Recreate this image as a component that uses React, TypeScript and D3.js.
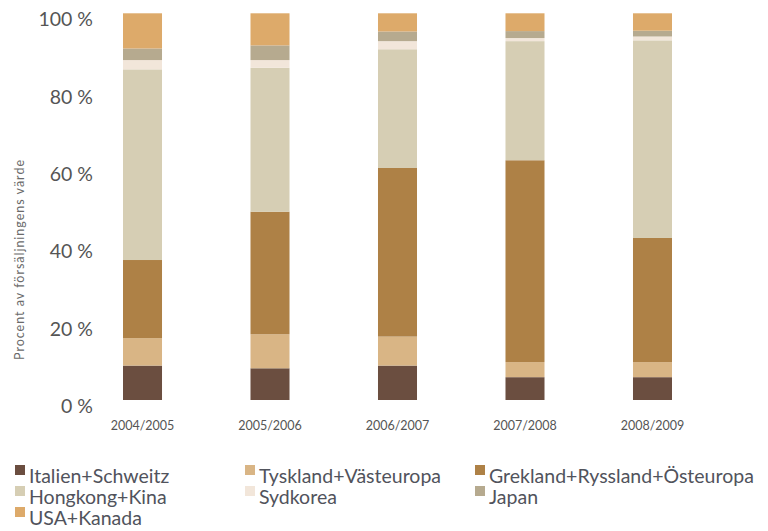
import React from "react";
import * as d3 from "d3";

// values in percent
const periods = ["2004/2005", "2005/2006", "2006/2007", "2007/2008", "2008/2009"];
const italien = [8.9, 8.2, 8.9, 5.9, 5.9];
const tyskland = [7.1, 8.8, 7.5, 3.9, 3.9];
const grekland = [20.2, 31.7, 43.6, 52.2, 32.1];
const hongkong = [49.3, 37.2, 30.7, 30.8, 51.1];
const sydkorea = [2.4, 2.0, 2.1, 0.8, 1.0];
const japan = [3.0, 3.8, 2.5, 1.8, 1.5];
const usa = [9.1, 8.3, 4.7, 4.6, 4.5];
const yTicks = [0, 20, 40, 60, 80, 100];

const seriesNames = [
  "Italien+Schweitz",
  "Tyskland+Västeuropa",
  "Grekland+Ryssland+Östeuropa",
  "Hongkong+Kina",
  "Sydkorea",
  "Japan",
  "USA+Kanada",
];
const seriesValues = [italien, tyskland, grekland, hongkong, sydkorea, japan, usa];
const colors = ["#6b4e40", "#d9b585", "#ae8146", "#d6ceb4", "#f2e6da", "#b6aa8f", "#ddaa6a"];

const width = 768;
const height = 531;
const font = "Lato, 'Open Sans', sans-serif";

const App = () => {
  const rows = periods.map((p, i) => {
    const row: Record<string, any> = { period: p };
    seriesNames.forEach((name, s) => {
      row[name] = seriesValues[s][i];
    });
    return row;
  });

  const stacked = d3.stack<any>().keys(seriesNames)(rows);

  const x = d3
    .scaleBand()
    .domain(periods)
    .range([123, 672])
    .paddingInner(0.694)
    .paddingOuter(0);
  const y = d3.scaleLinear().domain([0, 100]).range([400, 13.3]);
  const color = d3.scaleOrdinal<string>().domain(seriesNames).range(colors);

  // legend: three columns, filled row by row
  const legendCols = [15, 245, 475];
  const legendRows = [483, 504, 525];

  return (
    <svg
      width={width}
      height={height}
      style={{ position: "absolute", left: 0, top: 0, background: "#fff" }}
      fontFamily={font}
    >
      {stacked.map((layer) => (
        <g key={layer.key} fill={color(layer.key)}>
          {layer.map((d) => (
            <rect
              key={d.data.period}
              x={x(d.data.period)}
              width={x.bandwidth()}
              y={y(d[1])}
              height={y(d[0]) - y(d[1])}
            />
          ))}
        </g>
      ))}

      <g fill="#555" fontSize={19.5} textAnchor="end">
        {yTicks.map((t) => (
          <text key={t} x={93} y={y(t)} dy={13}>
            {`${t} %`}
          </text>
        ))}
      </g>

      <text
        transform={`translate(24, 260) rotate(-90)`}
        textAnchor="middle"
        fontSize={12.5}
        fill="#6a6a6a"
        textLength={200}
        lengthAdjust="spacing"
      >
        Procent av försäljningens värde
      </text>

      <g fill="#555" fontSize={12.5} textAnchor="middle">
        {periods.map((p) => (
          <text key={p} x={(x(p) as number) + x.bandwidth() / 2} y={430}>
            {p}
          </text>
        ))}
      </g>

      <g fontSize={19.5} fill="#51535c">
        {seriesNames.map((name, i) => {
          const cx = legendCols[i % 3];
          const cy = legendRows[Math.floor(i / 3)];
          return (
            <g key={name} transform={`translate(${cx}, ${cy})`}>
              <rect x={0} y={-18} width={10} height={10} fill={color(name)} />
              <text x={14} y={0}>
                {name}
              </text>
            </g>
          );
        })}
      </g>
    </svg>
  );
};

export default App;
